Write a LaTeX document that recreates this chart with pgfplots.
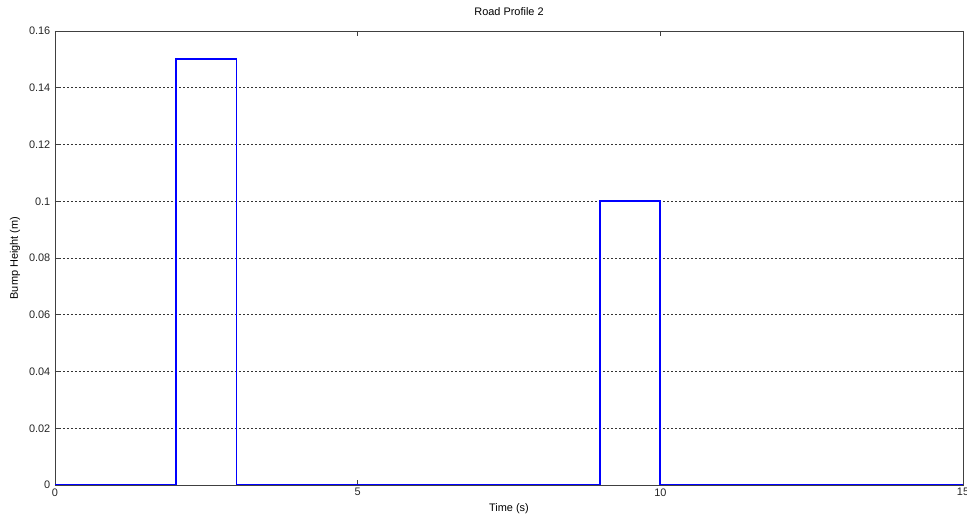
\documentclass[border=0pt]{standalone}
\usepackage{pgfplots}
\pgfplotsset{compat=1.18}
\usepackage{fontspec}
\setmainfont{Liberation Sans}
\begin{document}
\begin{tikzpicture}[x=0.75pt,y=0.75pt]
\begin{axis}[
  name=ax,
  at={(0,0)}, anchor=south west,
  scale only axis,
  width=681pt, height=340.5pt,
  xmin=0, xmax=15, ymin=0, ymax=0.16,
  xtick={0,5,10,15},
  ytick={0,0.02,0.04,0.06,0.08,0.1,0.12,0.14,0.16},
  scaled y ticks=false,
  yticklabel style={/pgf/number format/.cd,fixed,precision=2},
  /pgf/number format/assume math mode=true,
  tick align=inside,
  major tick length=3.75pt,
  ymajorgrids,
  major grid style={black!80, dash pattern=on 1.5pt off 1.5pt, line width=0.5pt},
  axis line style={black!75, line width=0.6pt},
  tick style={black!75, line width=0.6pt},
  ticklabel style={font=\fontsize{8.2}{9}\selectfont, text=black!85},
  xticklabel style={yshift=1pt},
  title={Road Profile 2},
  every axis title shift=0pt,
  title style={font=\fontsize{8.2}{9}\selectfont, at={(axis description cs:0.5,1.0419)}, anchor=center},
  xlabel={Time (s)},
  ylabel={Bump Height (m)},
  label style={font=\fontsize{8.2}{9}\selectfont},
  xlabel style={at={(axis description cs:0.5,-0.0529)}, anchor=center},
  ylabel style={at={(axis description cs:-0.0441,0.5)}, anchor=center, rotate=0},
]
\addplot[blue, line width=1.3pt, line join=miter] coordinates {
(0,0) (2,0) (2,0.15) (3,0.15) (3,0) (9,0) (9,0.1) (10,0.1) (10,0) (15,0)
};
\end{axis}
\pgfresetboundingbox
\path[use as bounding box] (-55,-31) rectangle (912,485);
\end{tikzpicture}
\end{document}
